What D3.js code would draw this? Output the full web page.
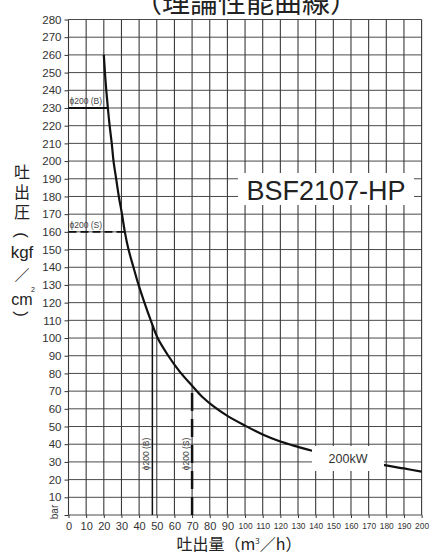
<!DOCTYPE html>
<html>
<head>
<meta charset="utf-8">
<script src="https://cdn.jsdelivr.net/npm/d3@7"></script>
<style>
  body { margin: 0; background: #fff; }
  text { font-family: "Liberation Sans", Arial, sans-serif; fill: #222; }
  .jp { font-family: "Noto Sans CJK JP", sans-serif; }
</style>
</head>
<body>
<div id="chart"></div>
<script>
// curve (flow m3/h, pressure kgf/cm2)
var flow = [20, 21, 22.3, 23.3, 24.5, 25.5, 27, 28.5, 30.3, 31.9, 34, 36.8, 39.7, 43, 46.6, 50.5, 56.5, 63, 70, 76, 82, 90, 100, 110, 120, 130, 138, 179, 190, 200];
var pressure = [260, 245, 230, 220, 210, 200, 190, 180, 170, 160, 150, 140, 130, 120, 110, 100, 90, 81, 73, 66.5, 61.5, 56, 50.5, 45.5, 41.5, 38.5, 36.3, 28.2, 26.3, 24.5];

var xTicks = d3.range(0, 201, 10);
var yTicks = d3.range(0, 281, 10);

// pipe size marks
var hMarkLabels = ["ɸ200 (B)", "ɸ200 (S)"];
var hMarkPressure = [230, 160];
var hMarkFlow = [22.3, 31.9];
var vMarkLabels = ["ɸ200 (B)", "ɸ200 (S)"];
var vMarkFlow = [47.5, 70];
var vMarkPressure = [107.5, 73];

var title = "（理論性能曲線）";
var model = "BSF2107-HP";
var power = "200kW";

var W = 430, H = 553;
var margin = { top: 19.5, right: 8.4, bottom: 38, left: 68.5 };

var x = d3.scaleLinear().domain([0, 200]).range([margin.left, W - margin.right]);
var y = d3.scaleLinear().domain([0, 280]).range([H - margin.bottom, margin.top]);

var svg = d3.select("#chart").append("svg")
  .attr("width", W)
  .attr("height", H);

// grid
svg.append("g").selectAll("line").data(yTicks).enter().append("line")
  .attr("x1", x(0)).attr("x2", x(200))
  .attr("y1", function(d) { return y(d); })
  .attr("y2", function(d) { return y(d); })
  .attr("stroke", "#4a4a4a").attr("stroke-width", 1);
svg.append("g").selectAll("line").data(xTicks).enter().append("line")
  .attr("y1", y(0)).attr("y2", y(280))
  .attr("x1", function(d) { return x(d); })
  .attr("x2", function(d) { return x(d); })
  .attr("stroke", "#3a3a3a").attr("stroke-width", 1.1);

// axes
var yAxis = svg.append("g")
  .attr("transform", "translate(" + x(0) + ",0)")
  .call(d3.axisLeft(y).tickValues(yTicks).tickSize(4).tickPadding(3)
    .tickFormat(function(d) { return d === 0 ? "" : d; }));
yAxis.select(".domain").remove();
yAxis.selectAll("line").attr("stroke", "#333");
yAxis.selectAll("text").style("font-size", "11.5px").style("fill", "#333")
  .style("font-family", "'Liberation Sans', Arial, sans-serif");

var xAxis = svg.append("g")
  .attr("transform", "translate(0," + y(0) + ")")
  .call(d3.axisBottom(x).tickValues(xTicks).tickSize(3).tickPadding(4));
xAxis.select(".domain").remove();
xAxis.selectAll("line").attr("stroke", "#333");
xAxis.selectAll("text").style("font-size", "11px").style("fill", "#333")
  .style("font-family", "'Liberation Sans', Arial, sans-serif")
  .each(function(d) {
    if (d >= 100) {
      d3.select(this).style("font-size", "9.5px")
        .attr("textLength", 14).attr("lengthAdjust", "spacingAndGlyphs");
    }
  });

svg.append("text")
  .attr("transform", "translate(" + (x(0) - 11) + "," + (y(0) - 3) + ") rotate(-90)")
  .attr("text-anchor", "middle")
  .style("font-size", "10px").style("fill", "#333")
  .text("bar");

// pipe marks
hMarkPressure.forEach(function(p, i) {
  svg.append("line")
    .attr("x1", x(0)).attr("x2", x(hMarkFlow[i]))
    .attr("y1", y(p)).attr("y2", y(p))
    .attr("stroke", "#111").attr("stroke-width", i === 0 ? 2 : 1.6)
    .attr("stroke-dasharray", i === 0 ? null : "8,4");
  svg.append("text")
    .attr("x", x(0) + 1).attr("y", y(p) - 4)
    .style("font-size", "8.5px").style("fill", "#444")
    .text(hMarkLabels[i]);
});
vMarkFlow.forEach(function(q, i) {
  svg.append("line")
    .attr("x1", x(q)).attr("x2", x(q))
    .attr("y1", y(0)).attr("y2", y(vMarkPressure[i]))
    .attr("stroke", "#111").attr("stroke-width", i === 0 ? 1.5 : 2.5)
    .attr("stroke-dasharray", i === 0 ? null : "18,8");
  svg.append("text")
    .attr("transform", "translate(" + (x(q) - 3.5) + "," + y(34.5) + ") rotate(-90)")
    .attr("text-anchor", "middle")
    .style("font-size", "8.5px").style("fill", "#444")
    .text(vMarkLabels[i]);
});

// curve
var pts = flow.map(function(q, i) { return [q, pressure[i]]; });
var line = d3.line()
  .x(function(d) { return x(d[0]); })
  .y(function(d) { return y(d[1]); })
  .curve(d3.curveCatmullRom.alpha(0.5));
svg.append("path")
  .datum(pts)
  .attr("d", line)
  .attr("fill", "none")
  .attr("stroke", "#111")
  .attr("stroke-width", 2.2);

// labels with white boxes
svg.append("rect")
  .attr("x", 312).attr("y", 446).attr("width", 72).attr("height", 25)
  .attr("fill", "#fff");
svg.append("text")
  .attr("x", 348).attr("y", 462.5)
  .attr("text-anchor", "middle")
  .style("font-size", "12.5px").style("fill", "#333")
  .text(power);

svg.append("rect")
  .attr("x", 238).attr("y", 173).attr("width", 176).attr("height", 32)
  .attr("fill", "#fff");
svg.append("text")
  .attr("x", 326).attr("y", 200)
  .attr("text-anchor", "middle")
  .style("font-size", "27px").style("fill", "#222")
  .text(model);

// titles
svg.append("text")
  .attr("class", "jp")
  .attr("x", 246).attr("y", 13)
  .attr("text-anchor", "middle")
  .style("font-size", "28px").style("fill", "#222")
  .text(title);

var xt = svg.append("text")
  .attr("class", "jp")
  .attr("x", 239).attr("y", 550)
  .attr("text-anchor", "middle")
  .style("font-size", "16px").style("fill", "#222");
xt.append("tspan").text("吐出量（m");
xt.append("tspan").attr("dy", -6).style("font-size", "8px").text("3");
xt.append("tspan").attr("dy", 6).text("／h）");

// vertical y title
var yParts = [
  { t: "吐", cy: 172, jp: true, fs: 16, rot: 0 },
  { t: "出", cy: 192, jp: true, fs: 16, rot: 0 },
  { t: "圧", cy: 212, jp: true, fs: 16, rot: 0 },
  { t: "(", cy: 235, jp: false, fs: 17, rot: 90 },
  { t: "kgf", cy: 252, jp: false, fs: 17, rot: 0 },
  { t: "／", cy: 276, jp: true, fs: 15, rot: 0 },
  { t: "cm", cy: 299, jp: false, fs: 16, rot: 0 },
  { t: ")", cy: 314, jp: false, fs: 17, rot: 90 }
];
yParts.forEach(function(d) {
  svg.append("text")
    .attr("class", d.jp ? "jp" : null)
    .attr("transform", "translate(22," + d.cy + ") rotate(" + d.rot + ")")
    .attr("dy", "0.35em")
    .attr("text-anchor", "middle")
    .style("font-size", d.fs + "px").style("fill", "#222")
    .text(d.t);
});
svg.append("text")
  .attr("x", 31).attr("y", 292)
  .style("font-size", "7px").style("fill", "#222")
  .text("2");
</script>
</body>
</html>
